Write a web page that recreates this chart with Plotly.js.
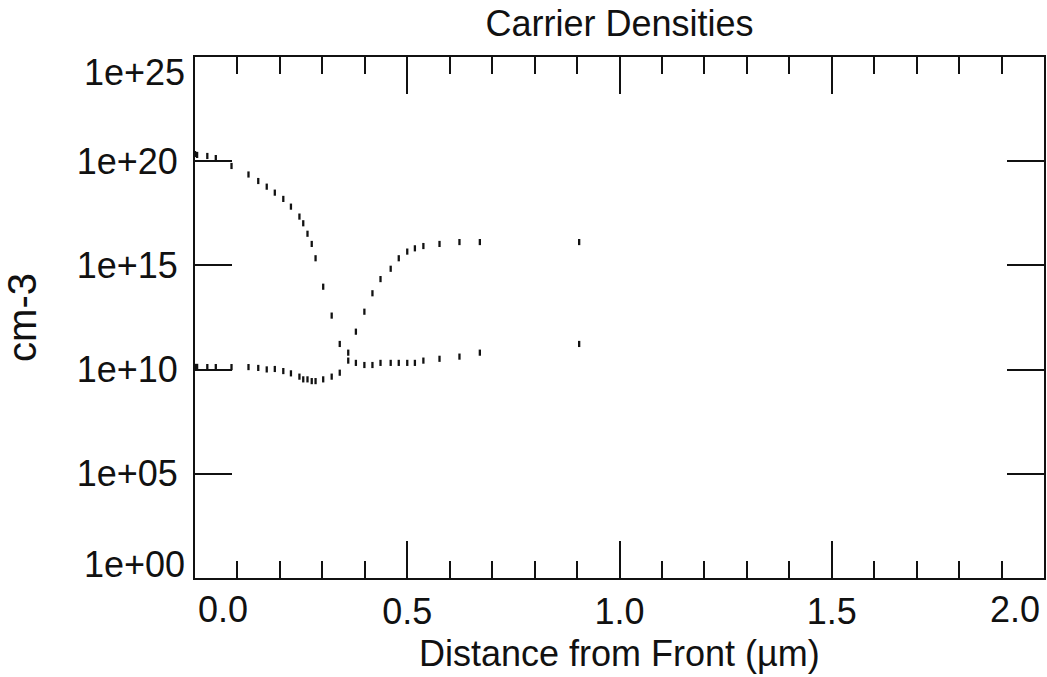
<!DOCTYPE html>
<html>
<head>
<meta charset="utf-8">
<script src="https://cdn.plot.ly/plotly-3.0.1.min.js"></script>
<style>
  html, body { margin: 0; padding: 0; background: #fff; }
  #chart { width: 1047px; height: 677px; }
</style>
</head>
<body>
<div id="chart"></div>
<script>
// Distance from front (µm) of each mesh point
const distance = [0, 0.005, 0.029, 0.049, 0.086, 0.126, 0.149, 0.169, 0.188, 0.208, 0.226,
  0.246, 0.255, 0.265, 0.275, 0.284, 0.302, 0.322, 0.341, 0.361, 0.379, 0.399, 0.418,
  0.437, 0.461, 0.480, 0.500, 0.518, 0.538, 0.576, 0.623, 0.671, 0.905];

// Electron density (cm-3)
const electrons = [2.2e20, 2.0e20, 1.78e20, 1.41e20, 5.9e19, 2.3e19, 1.12e19, 6.0e18, 3.1e18,
  1.55e18, 6.6e17, 2.2e17, 1.05e17, 3.3e16, 1.07e16, 2.2e15, 9.5e13, 3.9e12, 1.7e11,
  2.7e10, 2.1e10, 1.66e10, 1.66e10, 2.1e10, 2.1e10, 2.1e10, 2.1e10, 2.1e10, 2.7e10,
  3.3e10, 4.2e10, 6.5e10, 1.7e11];

// Hole density (cm-3)
const holes = [1.35e10, 1.35e10, 1.32e10, 1.32e10, 1.32e10, 1.32e10, 1.2e10, 1.02e10, 1.07e10,
  8.5e9, 6.6e9, 4.6e9, 3.4e9, 3.4e9, 2.8e9, 2.8e9, 3.4e9, 4.6e9, 7.1e9, 6.5e10, 6.6e11,
  6.0e12, 4.6e13, 2.2e14, 6.9e14, 2.2e15, 4.6e15, 6.6e15, 8.5e15, 1.07e16, 1.32e16,
  1.32e16, 1.32e16];

// Axis ticks
const xTickVals = [0, 0.5, 1.0, 1.5, 2.0];
const xTickText = ['0.0', '0.5', '1.0', '1.5', '2.0'];
const yTickVals = [1e0, 1e5, 1e10, 1e15, 1e20, 1e25];
const yTickText = ['1e+00', '1e+05', '1e+10', '1e+15', '1e+20', '1e+25'];

const FONT = 'Liberation Sans, Arial, sans-serif';
const INK = '#111';
const FS = 36;

const markerStyle = {
  symbol: 'line-ns',
  size: 4.4,
  color: INK,
  line: { color: INK, width: 2.3 }
};

const traces = [
  { x: distance, y: electrons, type: 'scatter', mode: 'markers', name: 'n',
    marker: markerStyle, cliponaxis: false, hoverinfo: 'x+y' },
  { x: distance, y: holes, type: 'scatter', mode: 'markers', name: 'p',
    marker: markerStyle, cliponaxis: false, hoverinfo: 'x+y' }
];

const lastX = xTickVals.length - 1;
const lastY = yTickVals.length - 1;
const tf = { family: FONT, size: FS, color: INK };
const annotations = [
  // end tick labels, pulled inside the frame as in the original plot
  { text: xTickText[0], xref: 'paper', yref: 'paper', x: 0, y: 0, xanchor: 'left', yanchor: 'top',
    xshift: 1, yshift: -9, showarrow: false, font: tf },
  { text: xTickText[lastX], xref: 'paper', yref: 'paper', x: 1, y: 0, xanchor: 'right', yanchor: 'top',
    xshift: -2, yshift: -9, showarrow: false, font: tf },
  { text: yTickText[0], xref: 'paper', yref: 'paper', x: 0, y: 0, xanchor: 'right', yanchor: 'bottom',
    xshift: -8, yshift: -9, showarrow: false, font: tf },
  { text: yTickText[lastY], xref: 'paper', yref: 'paper', x: 0, y: 1, xanchor: 'right', yanchor: 'top',
    xshift: -8, yshift: 7, showarrow: false, font: tf },
  // x axis title
  { text: 'Distance from Front (µm)', xref: 'paper', yref: 'paper', x: 0.5, y: -(653 - 578) / 521,
    xanchor: 'center', yanchor: 'middle', showarrow: false, font: tf }
];

const layout = {
  width: 1047, height: 677,
  margin: { l: 195, r: 3, t: 57, b: 99 },
  paper_bgcolor: '#fff', plot_bgcolor: '#fff',
  showlegend: false,
  font: tf,
  title: { text: 'Carrier Densities', font: tf,
           x: 0.5, xref: 'paper', xanchor: 'center', y: 1 - 11 / 677, yref: 'container', yanchor: 'top' },
  xaxis: {
    range: [0, 2.0], showgrid: false, zeroline: false,
    showline: true, linecolor: INK, linewidth: 2, mirror: 'ticks',
    ticks: 'inside', ticklen: 37, tickwidth: 2, tickcolor: INK,
    tickmode: 'array', tickvals: xTickVals,
    ticktext: xTickText.map((t, i) => (i === 0 || i === lastX) ? '' : t),
    ticklabelstandoff: 1,
    minor: { dtick: 0.1, ticks: 'inside', ticklen: 17, tickwidth: 2, tickcolor: INK, showgrid: false }
  },
  yaxis: {
    type: 'log', range: [0, 25], showgrid: false, zeroline: false,
    showline: true, linecolor: INK, linewidth: 2, mirror: 'ticks',
    ticks: 'inside', ticklen: 37, tickwidth: 2, tickcolor: INK,
    tickmode: 'array', tickvals: yTickVals,
    ticktext: yTickText.map((t, i) => (i === 0 || i === lastY) ? '' : t),
    ticklabelstandoff: 8,
    title: { text: 'cm-3', font: { family: FONT, size: 40, color: INK }, standoff: 40 }
  },
  annotations: annotations
};

Plotly.newPlot('chart', traces, layout, { staticPlot: true, displayModeBar: false });
</script>
</body>
</html>
